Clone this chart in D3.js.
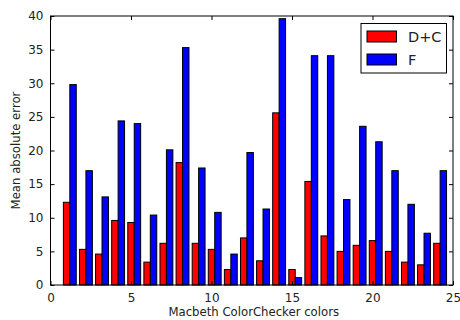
<!DOCTYPE html>
<html>
<head>
<meta charset="utf-8">
<script src="https://cdn.jsdelivr.net/npm/d3@7"></script>
<style>
  body { margin: 0; background: #fff; }
  svg { display: block; font-family: "DejaVu Sans", sans-serif; }
</style>
</head>
<body>
<div id="chart"></div>
<script>
// Macbeth ColorChecker patches 1..24
const patches = d3.range(1, 25)
const dcErrors = [12.3, 5.3, 4.6, 9.6, 9.3, 3.4, 6.2, 18.2, 6.2, 5.3, 2.3, 7.0,
  3.6, 25.6, 2.3, 15.4, 7.3, 5.0, 5.9, 6.6, 5.0, 3.4, 3.0, 6.2]
const fErrors = [29.8, 17.0, 13.1, 24.4, 24.0, 10.4, 20.1, 35.3, 17.4, 10.8, 4.6, 19.7,
  11.3, 39.6, 1.1, 34.1, 34.1, 12.7, 23.6, 21.3, 17.0, 12.0, 7.7, 17.0]
const xTicks = [0, 5, 10, 15, 20, 25]
const yTicks = [0, 5, 10, 15, 20, 25, 30, 35, 40]
const series = [
  { name: 'D+C', color: '#ff0000', values: dcErrors, offset: -0.2 },
  { name: 'F', color: '#0000ff', values: fErrors, offset: 0.2 },
]
const barWidth = 0.4

const W = 460, H = 320
const margin = { left: 50.5, right: 7, top: 16, bottom: 35 }

const svg = d3.select('#chart').append('svg')
  .attr('width', W).attr('height', H)

const x = d3.scaleLinear().domain([0, 25]).range([margin.left, W - margin.right])
const y = d3.scaleLinear().domain([0, 40]).range([H - margin.bottom, margin.top])

// Bars
series.forEach(s => {
  svg.append('g')
    .selectAll('rect')
    .data(patches)
    .join('rect')
    .attr('x', d => x(d + s.offset))
    .attr('width', d => x(d + s.offset + barWidth) - x(d + s.offset))
    .attr('y', (d, i) => y(s.values[i]))
    .attr('height', (d, i) => y(0) - y(s.values[i]))
    .attr('fill', s.color)
    .attr('stroke', '#000')
    .attr('stroke-width', 1)
})

// Axes: ticks inward on all four sides
const tickLen = 4
const gx = svg.append('g')
  .attr('transform', `translate(0,${y(0)})`)
  .call(d3.axisBottom(x).tickValues(xTicks).tickSize(-tickLen).tickPadding(8))
const gxTop = svg.append('g')
  .attr('transform', `translate(0,${y(40)})`)
  .call(d3.axisTop(x).tickValues(xTicks).tickSize(-tickLen).tickFormat(''))
const gy = svg.append('g')
  .attr('transform', `translate(${x(0)},0)`)
  .call(d3.axisLeft(y).tickValues(yTicks).tickSize(-tickLen).tickPadding(7))
const gyRight = svg.append('g')
  .attr('transform', `translate(${x(25)},0)`)
  .call(d3.axisRight(y).tickValues(yTicks).tickSize(-tickLen).tickFormat(''))

;[gx, gxTop, gy, gyRight].forEach(g => {
  g.select('.domain').remove()
  g.selectAll('.tick line').attr('stroke', '#000')
  g.selectAll('.tick text')
    .attr('fill', '#222')
    .style('font-size', '12px')
    .style('font-family', '"DejaVu Sans", sans-serif')
})

// Frame
svg.append('rect')
  .attr('x', x(0)).attr('y', y(40))
  .attr('width', x(25) - x(0)).attr('height', y(0) - y(40))
  .attr('fill', 'none').attr('stroke', '#000').attr('stroke-width', 1)

// Axis labels
svg.append('text')
  .attr('x', (x(0) + x(25)) / 2 + 2)
  .attr('y', 315.5)
  .attr('text-anchor', 'middle')
  .style('font-size', '11.7px')
  .attr('fill', '#222')
  .text('Macbeth ColorChecker colors')

svg.append('text')
  .attr('transform', `translate(19.5,${(y(0) + y(40)) / 2}) rotate(-90)`)
  .attr('text-anchor', 'middle')
  .style('font-size', '11.7px')
  .attr('fill', '#222')
  .text('Mean absolute error')

// Legend
const legend = svg.append('g').attr('transform', 'translate(361,23.5)')
legend.append('rect')
  .attr('width', 85.5).attr('height', 49.5)
  .attr('fill', '#fff').attr('stroke', '#000').attr('stroke-width', 1)
const items = legend.selectAll('g.item')
  .data(series)
  .join('g')
  .attr('class', 'item')
  .attr('transform', (d, i) => `translate(6,${7.5 + i * 23})`)
items.append('rect')
  .attr('width', 29.5).attr('height', 11)
  .attr('fill', d => d.color)
  .attr('stroke', '#000').attr('stroke-width', 1)
items.append('text')
  .attr('x', 41).attr('y', 11)
  .style('font-size', '14.5px')
  .attr('fill', '#222')
  .text(d => d.name)
</script>
</body>
</html>
